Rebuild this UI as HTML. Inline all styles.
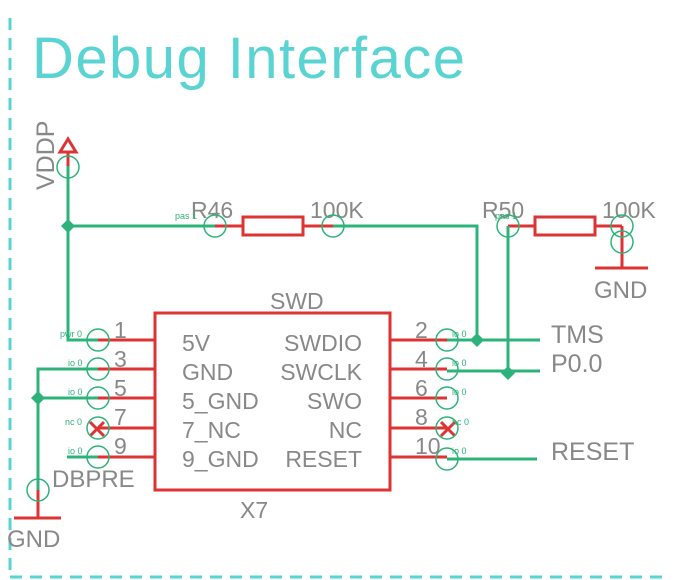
<!DOCTYPE html>
<html><head><meta charset="utf-8"><style>body{margin:0;background:#fff}svg{display:block}</style></head><body>
<svg width="680" height="580" viewBox="0 0 680 580" xmlns="http://www.w3.org/2000/svg" font-family="Liberation Sans, sans-serif">
<g stroke="#5ad3d3" stroke-width="3" stroke-dasharray="12,8" fill="none">
<line x1="10" y1="18" x2="10" y2="577"/><line x1="10" y1="577" x2="665" y2="577"/>
</g>
<text x="32" y="78" font-size="58" fill="#5ad3d3" textLength="433">Debug Interface</text>
<g fill="#888" font-size="23">
<text transform="translate(54,190) rotate(-90)" font-size="25">VDDP</text>
<text x="191" y="218">R46</text><text x="310" y="218">100K</text>
<text x="482" y="218">R50</text><text x="602" y="218">100K</text>
<text x="594" y="298" font-size="24">GND</text>
<text x="270" y="309">SWD</text>
<text x="240" y="518">X7</text>
<text x="52" y="487" font-size="24">DBPRE</text>
<text x="7" y="547" font-size="24">GND</text>
<g font-size="25"><text x="551" y="343">TMS</text><text x="551" y="372">P0.0</text><text x="551" y="460">RESET</text></g>
<text x="182" y="351">5V</text><text x="182" y="380">GND</text><text x="182" y="409">5_GND</text><text x="182" y="438">7_NC</text><text x="182" y="467">9_GND</text>
<g text-anchor="end"><text x="362" y="351">SWDIO</text><text x="362" y="380">SWCLK</text><text x="362" y="409">SWO</text><text x="362" y="438">NC</text><text x="362" y="467">RESET</text></g>
<text x="114" y="338">1</text><text x="114" y="367">3</text><text x="114" y="396">5</text><text x="114" y="425">7</text><text x="114" y="454">9</text>
<text x="415" y="338">2</text><text x="415" y="367">4</text><text x="415" y="396">6</text><text x="415" y="425">8</text><text x="415" y="454">10</text>
</g>
<g stroke="#dd3333" stroke-width="3" fill="none">
<path d="M60,152 L68,139 L76,152 Z M68,152 V166"/>
<line x1="215" y1="226" x2="243" y2="226"/><rect x="243" y="217" width="60" height="18"/><line x1="303" y1="226" x2="333" y2="226"/>
<line x1="508" y1="226" x2="535" y2="226"/><rect x="535" y="217" width="60" height="18"/><line x1="595" y1="226" x2="622" y2="226"/>
<line x1="622" y1="226" x2="622" y2="268"/><line x1="595" y1="268" x2="648" y2="268"/>
<rect x="155" y="313" width="235" height="177"/>
<line x1="98" y1="340" x2="155" y2="340"/><line x1="98" y1="369" x2="155" y2="369"/><line x1="98" y1="398" x2="155" y2="398"/><line x1="98" y1="428" x2="155" y2="428"/><line x1="98" y1="457" x2="155" y2="457"/>
<line x1="390" y1="340" x2="447" y2="340"/><line x1="390" y1="369" x2="447" y2="369"/><line x1="390" y1="398" x2="447" y2="398"/><line x1="390" y1="428" x2="447" y2="428"/><line x1="390" y1="457" x2="447" y2="457"/>
<path d="M90,422 L104,436 M104,422 L90,436 M441,422 L455,436 M455,422 L441,436"/>
<line x1="38" y1="490" x2="38" y2="518"/><line x1="14" y1="518" x2="61" y2="518"/>
</g>
<g stroke="#2db37a" stroke-width="3" fill="none">
<path d="M68,166 V340 H98"/>
<path d="M68,226 H215 M333,226 H477 V340"/>
<path d="M447,340 H540 M508,226 V373 M447,371 H540 M447,459 H537"/>
<path d="M98,369 H38 V490 M38,398 H98 M67,457 H98"/>
</g>
<g stroke="#2db37a" stroke-width="1.5" fill="none">
<circle cx="68" cy="167" r="11"/><circle cx="215" cy="226" r="11"/><circle cx="333" cy="226" r="11"/><circle cx="508" cy="226" r="11"/><circle cx="622" cy="226" r="11"/><circle cx="622" cy="242" r="11"/>
<circle cx="98" cy="340" r="11"/><circle cx="98" cy="369" r="11"/><circle cx="98" cy="398" r="11"/><circle cx="98" cy="428" r="11"/><circle cx="98" cy="457" r="11"/>
<circle cx="447" cy="340" r="11"/><circle cx="447" cy="369" r="11"/><circle cx="447" cy="398" r="11"/><circle cx="447" cy="428" r="11"/><circle cx="447" cy="459" r="11"/>
<circle cx="38" cy="490" r="11"/>
</g>
<g fill="#2db37a"><path d="M68,219 L75,226 L68,233 L61,226Z M477,333 L484,340 L477,347 L470,340Z M508,366 L515,373 L508,380 L501,373Z M38,391 L45,398 L38,405 L31,398Z"/>
<g font-size="9"><text x="175" y="219">pas 1</text><text x="495" y="219">pas 1</text><text x="60" y="337">pwr 0</text><text x="68" y="366">io 0</text><text x="68" y="395">io 0</text><text x="65" y="425">nc 0</text><text x="68" y="454">io 0</text>
<text x="452" y="337">io 0</text><text x="452" y="366">io 0</text><text x="452" y="395">io 0</text><text x="452" y="425">nc 0</text><text x="452" y="454">io 0</text></g></g>
</svg>
</body></html>
